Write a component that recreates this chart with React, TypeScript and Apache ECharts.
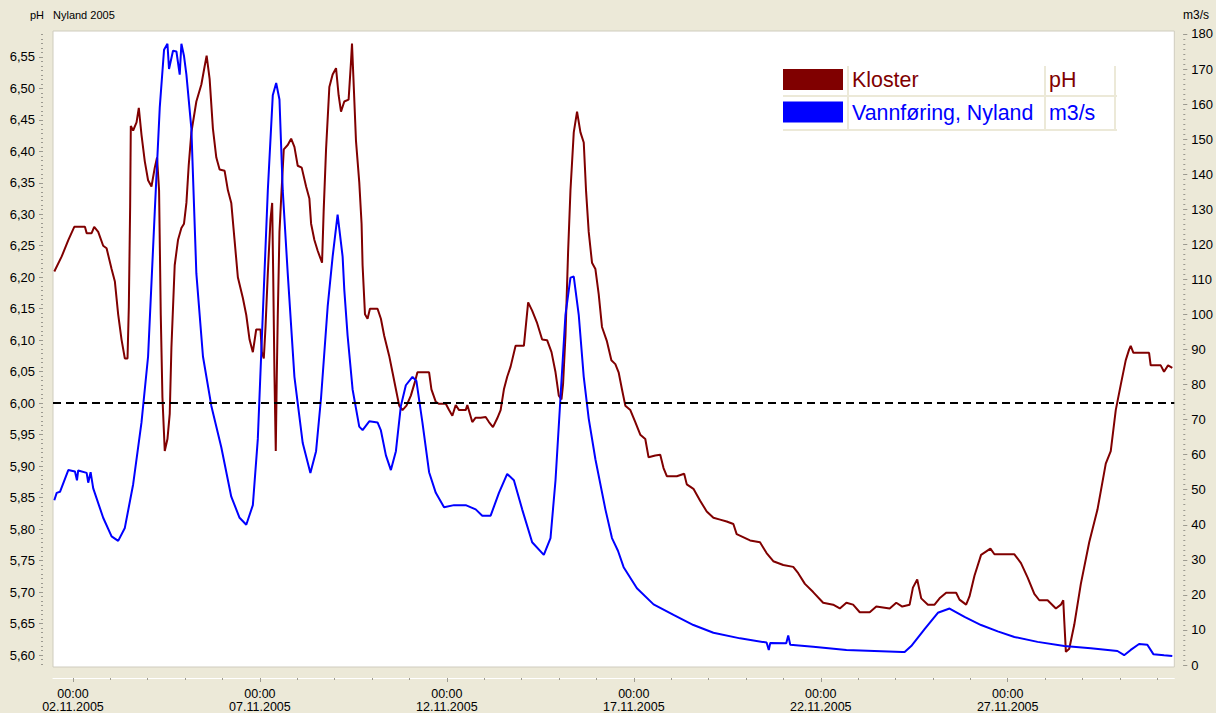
import React, { useEffect, useRef } from "react";
import * as echarts from "echarts";

// ---- data (time in days since 02.11.2005 00:00) ----
const KLOSTER_T = [-0.499,-0.301,-0.125,0.035,0.320,0.366,0.499,0.568,0.675,0.808,
0.899,1.033,1.121,1.209,1.299,1.387,1.459,1.494,1.529,1.547,
1.609,1.700,1.761,1.833,1.921,2.009,2.100,2.188,2.249,2.303,
2.348,2.393,2.455,2.527,2.588,2.633,2.721,2.809,2.900,2.970,
3.034,3.095,3.167,3.300,3.434,3.522,3.575,3.655,3.743,3.834,
3.922,4.056,4.144,4.234,4.322,4.410,4.544,4.635,4.723,4.811,
4.901,5.016,5.051,5.104,5.149,5.211,5.283,5.328,5.355,5.390,
5.424,5.451,5.478,5.523,5.568,5.638,5.744,5.835,5.923,6.011,
6.118,6.235,6.323,6.369,6.457,6.545,6.662,6.705,6.769,6.857,
6.945,7.036,7.105,7.169,7.257,7.372,7.436,7.463,7.497,7.569,
7.657,7.719,7.746,7.810,7.879,7.943,8.146,8.236,8.324,8.458,
8.546,8.637,8.725,8.813,8.920,9.037,9.152,9.213,9.525,9.587,
9.704,9.792,9.971,10.059,10.147,10.237,10.326,10.504,10.547,10.680,
10.771,10.905,11.038,11.126,11.233,11.348,11.438,11.526,11.614,11.705,
11.838,12.060,12.174,12.281,12.415,12.548,12.681,12.799,12.906,12.994,
13.066,13.108,13.172,13.242,13.306,13.394,13.482,13.573,13.661,13.722,
13.794,13.882,13.973,14.061,14.149,14.282,14.400,14.506,14.594,14.683,
14.773,14.907,15.040,15.173,15.307,15.395,15.574,15.707,15.795,15.883,
16.150,16.347,16.417,16.595,16.774,16.950,17.129,17.308,17.484,17.663,
17.751,18.109,18.375,18.551,18.730,18.997,19.264,19.397,19.576,19.797,
20.064,20.331,20.510,20.686,20.865,21.043,21.310,21.486,21.844,22.020,
22.180,22.377,22.465,22.580,22.687,22.866,23.044,23.178,23.354,23.621,
23.711,23.888,23.978,24.111,24.288,24.538,24.645,25.179,25.355,25.534,
25.712,25.846,26.067,26.289,26.422,26.486,26.513,26.556,26.646,26.780,
26.956,27.180,27.401,27.623,27.756,27.890,28.023,28.156,28.246,28.290,
28.362,28.781,28.824,29.093,29.181,29.288,29.402];

const KLOSTER_PH = [6.209,6.233,6.259,6.280,6.280,6.270,6.270,6.280,6.272,6.250,
6.246,6.213,6.193,6.141,6.101,6.071,6.071,6.153,6.311,6.440,
6.433,6.446,6.469,6.426,6.384,6.354,6.344,6.374,6.390,6.338,
6.141,6.009,5.924,5.943,5.983,6.088,6.219,6.259,6.278,6.285,
6.318,6.377,6.430,6.479,6.506,6.535,6.552,6.515,6.436,6.390,
6.371,6.369,6.338,6.318,6.259,6.200,6.167,6.140,6.101,6.081,
6.117,6.117,6.081,6.071,6.120,6.206,6.292,6.318,6.206,6.042,
5.924,6.042,6.140,6.272,6.325,6.403,6.410,6.420,6.407,6.377,
6.374,6.344,6.325,6.285,6.259,6.242,6.223,6.305,6.403,6.502,
6.522,6.532,6.489,6.463,6.479,6.482,6.542,6.571,6.522,6.417,
6.351,6.285,6.219,6.141,6.134,6.150,6.150,6.134,6.107,6.075,
6.049,6.022,5.996,5.989,5.996,6.012,6.035,6.049,6.049,6.022,
6.002,5.999,5.999,5.989,5.980,5.997,5.989,5.989,5.997,5.970,
5.977,5.977,5.978,5.970,5.962,5.976,5.989,6.022,6.042,6.058,
6.091,6.091,6.160,6.147,6.127,6.101,6.100,6.081,6.049,6.012,
6.006,6.030,6.107,6.239,6.338,6.430,6.463,6.430,6.414,6.338,
6.272,6.223,6.213,6.173,6.121,6.098,6.068,6.062,6.049,6.022,
5.996,5.989,5.970,5.950,5.943,5.914,5.917,5.918,5.897,5.884,
5.884,5.888,5.871,5.864,5.845,5.828,5.818,5.815,5.812,5.808,
5.792,5.782,5.779,5.762,5.749,5.743,5.740,5.730,5.713,5.700,
5.683,5.680,5.674,5.683,5.680,5.668,5.668,5.677,5.674,5.683,
5.677,5.680,5.707,5.720,5.690,5.680,5.680,5.690,5.699,5.699,
5.688,5.680,5.693,5.726,5.759,5.769,5.760,5.760,5.746,5.723,
5.697,5.687,5.687,5.674,5.680,5.687,5.654,5.605,5.610,5.648,
5.713,5.779,5.831,5.904,5.924,5.989,6.029,6.068,6.085,6.091,
6.080,6.080,6.060,6.060,6.050,6.060,6.056];

const FLOW_T = [-0.499,-0.435,-0.347,-0.125,0.053,0.107,0.14,0.366,0.408,0.472,
0.542,0.808,1.033,1.209,1.387,1.609,1.833,2.009,2.188,2.321,
2.436,2.527,2.569,2.676,2.767,2.855,2.900,2.970,3.034,3.167,
3.300,3.477,3.701,3.967,4.234,4.456,4.635,4.811,4.944,5.077,
5.211,5.344,5.435,5.523,5.611,5.744,5.923,6.145,6.350,6.502,
6.636,6.812,6.945,7.078,7.212,7.257,7.345,7.479,7.657,7.746,
7.924,8.146,8.236,8.370,8.503,8.637,8.770,8.903,9.080,9.186,
9.346,9.525,9.704,9.925,10.192,10.504,10.771,10.947,11.171,11.393,
11.614,11.793,12.014,12.281,12.593,12.772,12.906,13.039,13.172,13.306,
13.394,13.527,13.661,13.794,13.973,14.240,14.416,14.576,14.728,15.083,
15.528,16.062,16.595,17.129,17.842,18.551,18.61,18.65,19.077,19.13,
19.184,19.797,20.686,22.180,22.244,22.420,22.777,23.132,23.445,23.845,
24.288,24.733,25.179,25.800,26.513,27.222,27.935,28.114,28.290,28.514,
28.735,28.895,29.181,29.402];

const FLOW_Q = [47.0,49.1,49.4,55.6,55.2,52.7,55.5,54.8,52,55,
50.4,42,36.7,35.4,39.1,51.5,69.2,88,129.4,159,
175.5,177.2,170,175.2,175,168.4,177.2,173.7,168.4,153,
111.7,88,73.9,62.1,48,42,40,45.6,64.5,99.9,
135.3,162.5,166,161.3,135.3,111.7,82.2,63.3,54.8,61,
76.3,102.2,116.5,128.5,116.5,107,94,78.6,68,67,
69.5,69.2,66.9,59.8,55.6,61,73.9,79.8,82.2,81,
69.2,55,49.1,45,45.6,45.6,44.4,42.6,42.6,49.1,
54.5,52.7,44.4,35,31.4,36.2,52.7,76.3,99.9,110.5,
110.8,99.9,82.2,70.3,58.7,44.4,36.2,32.6,27.9,21.9,
17.3,14.3,11.4,9.2,7.6,6.4,4.3,6.3,6.2,8.4,
5.8,5.2,4.3,3.7,3.7,5.4,10.2,14.9,16.1,13.7,
11.4,9.6,8.0,6.6,5.4,4.8,4.0,2.8,4.3,6.0,
5.8,3.1,2.8,2.6];

const PH_TICKS = [5.60,5.65,5.70,5.75,5.80,5.85,5.90,5.95,6.00,6.05,6.10,6.15,6.20,6.25,6.30,6.35,6.40,6.45,6.50,6.55];
const Q_TICKS = [0,10,20,30,40,50,60,70,80,90,100,110,120,130,140,150,160,170,180];
const DAY_TICKS = [0,5,10,15,20,25];
const PH_LIMIT = 6.0;

const SERIES_NAMES = ["Kloster", "Vannføring, Nyland"];
const SERIES_UNITS = ["pH", "m3/s"];
const SERIES_COLORS = ["#800000", "#0000FF"];
const TITLE_LEFT = "pH";
const TITLE_MAIN = "Nyland 2005";
const TITLE_RIGHT = "m3/s";

const START_UTC = Date.UTC(2005, 10, 2);

const PH_MIN = 5.581, PH_MAX = 6.591;
const Q_MIN = -0.57, Q_MAX = 180.85;
const X_MIN = -0.534, X_MAX = 29.456;

const AXIS_FONT = "'Liberation Sans Narrow', 'Liberation Sans', Arial, sans-serif";
const TEXT_FONT = "'Liberation Sans', Arial, sans-serif";

function minorValues(base: number, step: number, lo: number, hi: number) {
  const out: number[] = [];
  const kLo = Math.ceil((lo - base) / step);
  const kHi = Math.floor((hi - base) / step);
  for (let k = kLo; k <= kHi; k++) out.push(+(base + k * step).toFixed(6));
  return out;
}

function fmtDate(v: number) {
  const d = new Date(START_UTC + Math.round(v) * 86400000);
  const dd = String(d.getUTCDate()).padStart(2, "0");
  const mm = String(d.getUTCMonth() + 1).padStart(2, "0");
  return "00:00\n" + dd + "." + mm + "." + d.getUTCFullYear();
}

export default function App() {
  const ref = useRef<HTMLDivElement>(null);
  useEffect(() => {
    if (!ref.current) return;
    const chart = echarts.init(ref.current, undefined, { renderer: "svg" });

    const tickColor = "#9C9A90";
    const phMinor = minorValues(5.6, 0.05 / 7, PH_MIN, PH_MAX);
    const qMinor = minorValues(0, 10 / 7, Q_MIN, Q_MAX);
    const dayMinor: number[] = [];
    for (let d = Math.ceil(X_MIN); d <= Math.floor(X_MAX); d++) dayMinor.push(d);

    // legend table graphics
    const lg: any[] = [];
    const rowTop = [69, 101.5];
    SERIES_NAMES.forEach((name, i) => {
      lg.push({ type: "rect", shape: { x: 783, y: rowTop[i], width: 60, height: 21 }, style: { fill: SERIES_COLORS[i] }, z: 100 });
      lg.push({ type: "text", x: 852, y: rowTop[i] + 10.5, scaleX: 0.93, style: { text: name, fill: SERIES_COLORS[i], fontSize: 23, fontFamily: TEXT_FONT, verticalAlign: "middle", align: "left" }, z: 100 });
      lg.push({ type: "text", x: 1049, y: rowTop[i] + 10.5, scaleX: 0.93, style: { text: SERIES_UNITS[i], fill: SERIES_COLORS[i], fontSize: 23, fontFamily: TEXT_FONT, verticalAlign: "middle", align: "left" }, z: 100 });
    });
    const sep = "#ECE9D8";
    [848, 1045, 1115].forEach((x) => {
      lg.push({ type: "line", shape: { x1: x, y1: 66, x2: x, y2: 131 }, style: { stroke: sep, lineWidth: 2 }, z: 99 });
    });
    [96, 130].forEach((y) => {
      lg.push({ type: "line", shape: { x1: 783, y1: y, x2: 1117, y2: y }, style: { stroke: sep, lineWidth: 2 }, z: 99 });
    });

    const noLine = { show: false, onZero: false };

    const option: any = {
      animation: false,
      backgroundColor: "#ECE9D8",
      grid: { left: 53, top: 31, right: 39, bottom: 45, show: true, backgroundColor: "#FFFFFF", borderColor: "#CFCCBE", borderWidth: 1, containLabel: false },
      xAxis: [
        {
          type: "value", min: X_MIN, max: X_MAX, position: "bottom", offset: 11,
          axisLine: { show: true, onZero: false, lineStyle: { color: "#FFFFFF", width: 1 } },
          axisTick: { show: true, customValues: DAY_TICKS, length: 4, lineStyle: { color: tickColor } },
          axisLabel: { show: true, customValues: DAY_TICKS, formatter: (v: number) => fmtDate(v), fontFamily: AXIS_FONT, fontSize: 12.5, lineHeight: 13, color: "#000", margin: 9 },
          splitLine: { show: false },
        },
        {
          type: "value", min: X_MIN, max: X_MAX, position: "bottom", offset: 11,
          axisLine: noLine,
          axisTick: { show: true, customValues: dayMinor, length: 2, lineStyle: { color: tickColor } },
          axisLabel: { show: false },
          splitLine: { show: false },
        },
      ],
      yAxis: [
        {
          type: "value", min: PH_MIN, max: PH_MAX, position: "left", offset: 10,
          axisLine: noLine,
          axisTick: { show: true, customValues: PH_TICKS, length: 4, lineStyle: { color: tickColor } },
          axisLabel: { customValues: PH_TICKS, formatter: (v: number) => v.toFixed(2).replace(".", ","), fontFamily: AXIS_FONT, fontSize: 13, color: "#000", margin: 8 },
          splitLine: { show: false },
        },
        {
          type: "value", min: PH_MIN, max: PH_MAX, position: "left", offset: 10,
          axisLine: noLine,
          axisTick: { show: true, customValues: phMinor, length: 2, lineStyle: { color: tickColor } },
          axisLabel: { show: false },
          splitLine: { show: false },
        },
        {
          type: "value", min: Q_MIN, max: Q_MAX, position: "right", offset: 9,
          axisLine: noLine,
          axisTick: { show: true, customValues: Q_TICKS, length: 4, lineStyle: { color: tickColor } },
          axisLabel: { customValues: Q_TICKS, formatter: (v: number) => String(Math.round(v)), fontFamily: AXIS_FONT, fontSize: 13, color: "#000", margin: 8 },
          splitLine: { show: false },
        },
        {
          type: "value", min: Q_MIN, max: Q_MAX, position: "right", offset: 9,
          axisLine: noLine,
          axisTick: { show: true, customValues: qMinor, length: 2, lineStyle: { color: tickColor } },
          axisLabel: { show: false },
          splitLine: { show: false },
        },
      ],
      series: [
        {
          type: "line", name: SERIES_NAMES[0], xAxisIndex: 0, yAxisIndex: 0,
          data: KLOSTER_T.map((t, i) => [t, KLOSTER_PH[i]]),
          showSymbol: false, symbol: "none",
          lineStyle: { color: SERIES_COLORS[0], width: 2 },
          itemStyle: { color: SERIES_COLORS[0] },
          z: 2,
        },
        {
          type: "line", name: SERIES_NAMES[1], xAxisIndex: 0, yAxisIndex: 2,
          data: FLOW_T.map((t, i) => [t, FLOW_Q[i]]),
          showSymbol: false, symbol: "none",
          lineStyle: { color: SERIES_COLORS[1], width: 2 },
          itemStyle: { color: SERIES_COLORS[1] },
          z: 3,
        },
        {
          type: "line", name: "limit", xAxisIndex: 0, yAxisIndex: 0, data: [], z: 4,
          markLine: {
            silent: true, symbol: ["none", "none"], label: { show: false },
            lineStyle: { color: "#000000", type: [8, 5], width: 2 },
            data: [{ yAxis: PH_LIMIT }],
          },
        },
      ],
      graphic: [
        { type: "text", x: 30, y: 15, style: { text: TITLE_LEFT, fill: "#000", fontSize: 11, fontFamily: TEXT_FONT, verticalAlign: "middle" } },
        { type: "text", x: 53, y: 15, style: { text: TITLE_MAIN, fill: "#000", fontSize: 11, fontFamily: TEXT_FONT, verticalAlign: "middle" } },
        { type: "text", x: 1183, y: 15, style: { text: TITLE_RIGHT, fill: "#000", fontSize: 12, fontFamily: TEXT_FONT, verticalAlign: "middle" } },
        ...lg,
      ],
    };
    chart.setOption(option);
    return () => chart.dispose();
  }, []);
  return (
    <div
      ref={ref}
      style={{ position: "absolute", left: 0, top: 0, width: 1216, height: 713, background: "#ECE9D8" }}
    />
  );
}
